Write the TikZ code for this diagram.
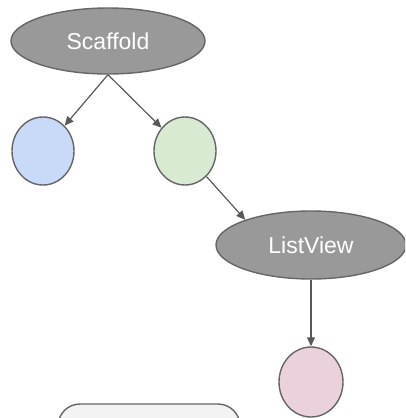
\documentclass[tikz,border=0pt]{standalone}
\usepackage{fontspec}
\setmainfont{Liberation Sans}
\usetikzlibrary{shapes.geometric,arrows.meta}
\definecolor{edgegray}{HTML}{666666}
\definecolor{widgetfill}{HTML}{999999}
\definecolor{arrowgray}{HTML}{595959}
\definecolor{leafblue}{HTML}{C9DAF8}
\definecolor{leafgreen}{HTML}{D9EAD3}
\definecolor{leafpink}{HTML}{EAD1DC}
\definecolor{panelfill}{HTML}{F3F3F3}
\tikzset{
  widget/.style={ellipse, draw=edgegray, line width=1.4pt, fill=widgetfill,
    inner sep=0pt, minimum width=194pt, minimum height=66pt,
    text=white, font=\fontsize{23}{28}\selectfont},
  leaf/.style={ellipse, draw=edgegray, line width=1.4pt, inner sep=0pt,
    minimum width=62pt, minimum height=68pt},
  panel/.style={rectangle, rounded corners=22pt, draw=edgegray, line width=1.4pt,
    fill=panelfill, minimum width=182pt, minimum height=60pt},
  link/.style={draw=arrowgray, line width=1.2pt,
    -{Triangle[length=9pt,width=8pt]}}
}
\begin{document}
\begin{tikzpicture}[x=1pt,y=-1pt]
  \useasboundingbox (0,0) rectangle (405,418);
  \clip (0,0) rectangle (405,418);
  % widget tree
  \node[widget] (scaffold) at (108,41) {Scaffold};
  \node[leaf, fill=leafblue] (blue) at (43,151) {};
  \node[leaf, fill=leafgreen] (green) at (185,151) {};
  \node[widget, minimum width=190pt, minimum height=68pt] (listview) at (311,245) {ListView};
  \node[leaf, fill=leafpink, minimum width=64pt, minimum height=70pt] (pink) at (311,382) {};
  % partly visible panel at the bottom edge
  \node[panel] (panel) at (149,434) {};
  % connectors
  \draw[link] (scaffold.south) -- (blue);
  \draw[link] (scaffold.south) -- (green);
  \draw[link] (green.-50) -- (listview.159);
  \draw[link] (listview.south) -- (pink.north);
\end{tikzpicture}
\end{document}
